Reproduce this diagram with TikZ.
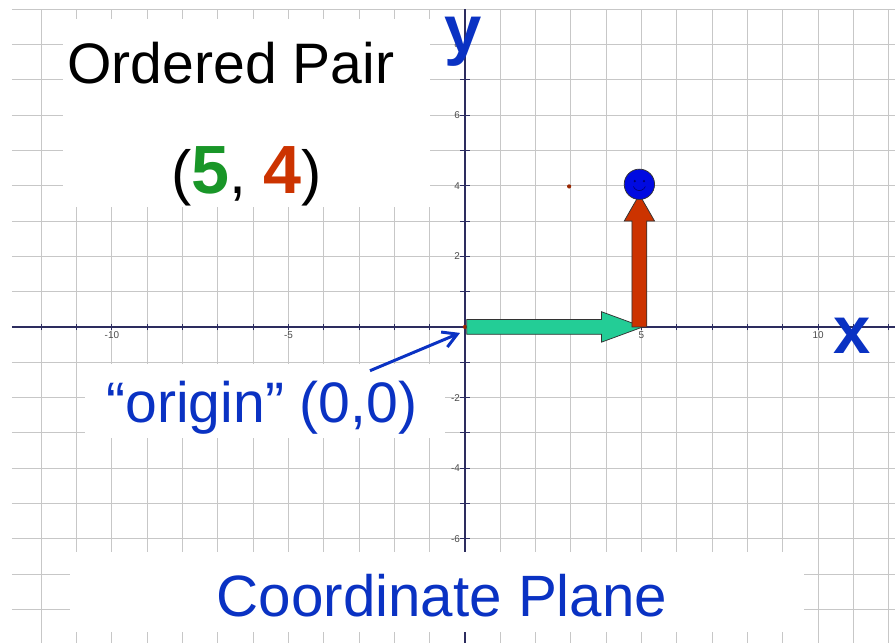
\documentclass[tikz,border=0pt]{standalone}
\usepackage{fontspec}
\setmainfont{Liberation Sans}
\usepackage{tikz}
\usetikzlibrary{arrows.meta,calc}
\definecolor{labelblue}{RGB}{10,50,195}
\definecolor{pairgreen}{RGB}{25,150,40}
\definecolor{pairred}{RGB}{204,51,0}
\definecolor{runcolor}{RGB}{35,205,150}
\definecolor{axiscolor}{RGB}{45,45,95}
\definecolor{dotblue}{RGB}{0,10,225}

\begin{document}
\begin{tikzpicture}[
  font=\fontsize{46}{50}\selectfont,
  gridline/.style={draw=black!22, line width=0.7pt},
  axisline/.style={draw=axiscolor, line width=1.1pt},
  tickmark/.style={draw=axiscolor, line width=0.8pt},
  ticklabel/.style={font=\fontsize{8}{9}\selectfont, text=black!70, inner sep=1pt},
  panel/.style={fill=white, inner sep=0pt},
  bigtext/.style={inner sep=0pt, anchor=base},
  axislabel/.style={text=labelblue, font=\fontsize{54}{60}\selectfont\bfseries, inner sep=0pt,
    text height=0.55em, text depth=0.2em, anchor=base},
  pt/.style={circle, fill=pairred!75!black, inner sep=0pt, minimum size=0.12cm},
  move/.style={draw=black!80, line width=0.6pt},
  pointer/.style={draw=labelblue, line width=2.4pt},
  >={Straight Barb[length=4mm,width=4.6mm]}]
\path[use as bounding box, fill=white] (-13.17,-8.95) rectangle (12.18,9.26);
\draw[gridline] (-12.83,-8.95) grid (12.18,9);
\draw[axisline] (-12.83,0) -- (12.18,0);
\draw[axisline] (0,9) -- (0,-8.95);
\foreach \i in {-12,...,12}
  \draw[tickmark] (\i,-0.09) -- (\i,0.09);
\foreach \i in {-8,...,8}
  \draw[tickmark] (-0.14,\i) -- (0.14,\i);
\foreach \v [count=\k] in {-10,-5,5,10}
  \node[ticklabel, below] (xt\k) at (\v,-0.1) {\v};
\foreach \v [count=\k] in {8,6,4,2,-2,-4,-6}
  \node[ticklabel, left] (yt\k) at (-0.1,\v) {\v};

\node[panel, minimum width=10.4cm, minimum height=5.34cm] (pairbox) at (-6.19,6.06) {};
\node[panel, minimum width=10.19cm, minimum height=2.09cm] (originbox) at (-5.665,-2.095) {};
\node[panel, minimum width=20.78cm, minimum height=2.26cm] (namebox) at (-0.79,-7.51) {};

\node[pt] (O) at (0,0) {};
\node[pt] (mark) at (2.95,3.98) {};
\draw[move, fill=runcolor] (0.05,0.21) -- (3.87,0.21) -- (3.87,0.43) -- (5.04,0)
  -- (3.87,-0.43) -- (3.87,-0.21) -- (0.05,-0.21) -- cycle;
\draw[move, fill=pairred] (4.73,0) -- (4.73,3.0) -- (4.51,3.0) -- (4.94,3.75)
  -- (5.37,3.0) -- (5.15,3.0) -- (5.15,0) -- cycle;
\node[circle, draw=black!80, line width=0.6pt, fill=dotblue, minimum size=0.86cm, inner sep=0pt] (P) at (4.94,4.04) {};
\fill[blue!45!black] ($(P)+(-0.13,0.09)$) circle (0.035) ($(P)+(0.13,0.09)$) circle (0.035);
\draw[blue!45!black, line width=0.5pt] ($(P)+(-0.17,-0.06)$) arc (200:340:0.18);

\node[bigtext] (title) at (-6.63,6.89) {Ordered Pair};
\node[bigtext, font=\fontsize{49}{54}\selectfont] (pair) at (-6.18,3.79) {(\textcolor{pairgreen}{\fontsize{55}{60}\selectfont\bfseries 5}, \textcolor{pairred}{\fontsize{55}{60}\selectfont\bfseries 4})};
\node[bigtext, text=labelblue] (origin) at (-5.75,-2.71) {“origin” (0,0)};
\node[bigtext, text=labelblue, font=\fontsize{47}{52}\selectfont] (plane) at (-0.65,-8.19) {Coordinate Plane};
\node[axislabel] (ylabel) at (-0.06,7.78) {y};
\node[axislabel] (xlabel) at (10.96,-0.76) {x};

\coordinate (ptrtail) at (-2.69,-1.24);
\coordinate (ptrtip) at (-0.14,-0.17);
\draw[pointer, ->] (ptrtail) -- (ptrtip);
\end{tikzpicture}
\end{document}
